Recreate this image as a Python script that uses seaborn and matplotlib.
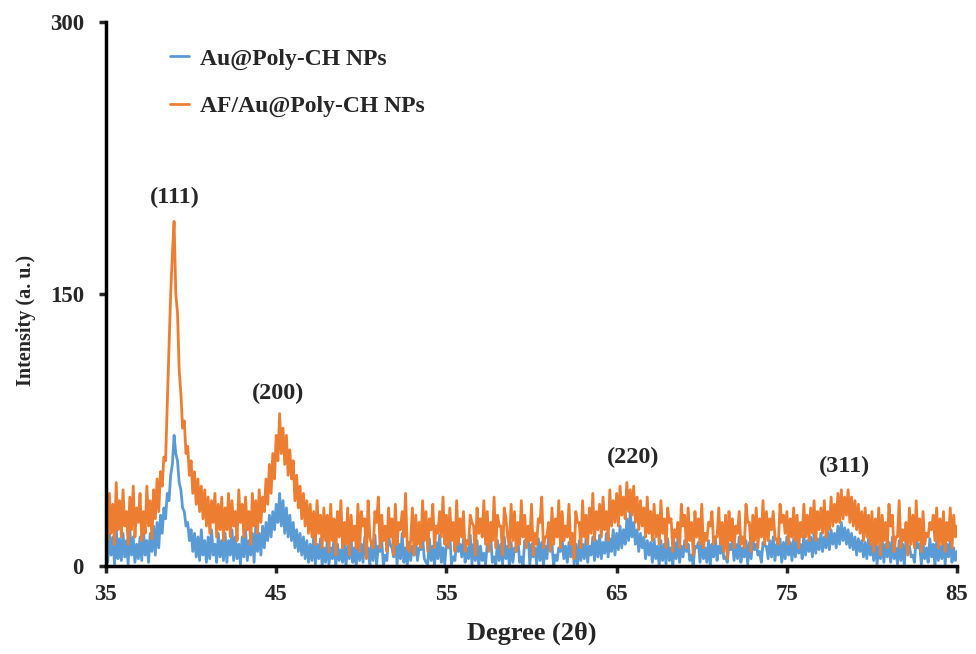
import numpy as np
import pandas as pd
import matplotlib
matplotlib.use('Agg')
import matplotlib.pyplot as plt
import seaborn as sns

# ── DATA (0.1 degree steps from 35 to 85) ─────────────────────────────────────
two_theta = np.round(np.arange(35.0, 85.05, 0.1), 1)

au_poly = [
    14, 2, 18, 6, 16, 1, 22, 4, 15, 3,        # 35
    18, 5, 14, 1, 20, 6, 16, 2, 12, 4,        # 36
    16, 3, 20, 6, 14, 2, 18, 8, 22, 6,        # 37
    24, 10, 28, 18, 32, 26, 40, 36, 50, 56,   # 38
    72, 62, 58, 46, 42, 32, 30, 22, 24, 14,   # 39
    20, 8, 18, 5, 16, 3, 20, 6, 14, 2,        # 40
    16, 4, 20, 6, 12, 2, 18, 5, 14, 3,        # 41
    18, 2, 14, 6, 20, 3, 16, 4, 12, 1,        # 42
    16, 5, 20, 3, 14, 6, 18, 2, 22, 8,        # 43
    18, 6, 22, 10, 24, 14, 28, 16, 30, 20,    # 44
    34, 24, 40, 22, 36, 18, 32, 16, 28, 14,   # 45
    24, 10, 20, 8, 18, 6, 16, 4, 14, 2,       # 46
    12, 3, 16, 1, 12, 4, 15, 0, 10, 2,        # 47
    14, 1, 10, 4, 16, 0, 12, 3, 9, 2,         # 48
    13, 0, 11, 4, 15, 2, 10, 0, 14, 3,        # 49
    12, 2, 16, 5, 10, 0, 13, 3, 17, 1,        # 50
    11, 8, 14, 0, 6, 3, 16, 12, 10, 5,        # 51
    15, 1, 12, 4, 18, 2, 10, 0, 13, 3,        # 52
    11, 6, 14, 3, 10, 9, 16, 4, 2, 1,         # 53
    15, 3, 11, 0, 13, 4, 17, 2, 10, 1,        # 54
    12, 10, 16, 1, 5, 3, 14, 8, 12, 5,        # 55
    15, 2, 10, 4, 17, 1, 12, 3, 14, 0,        # 56
    11, 3, 7, 1, 12, 10, 16, 2, 5, 0,         # 57
    14, 3, 12, 1, 16, 4, 11, 0, 13, 2,        # 58
    10, 8, 15, 2, 5, 0, 14, 11, 17, 1,        # 59
    12, 5, 10, 1, 15, 3, 13, 0, 11, 4,        # 60
    16, 9, 12, 0, 6, 3, 10, 8, 15, 4,         # 61
    11, 2, 13, 5, 17, 1, 12, 0, 14, 3,        # 62
    12, 4, 15, 2, 11, 6, 16, 3, 14, 5,        # 63
    17, 4, 13, 7, 18, 5, 15, 8, 20, 6,        # 64
    18, 9, 22, 10, 20, 12, 26, 14, 30, 16,    # 65
    24, 12, 20, 8, 18, 10, 16, 4, 14, 6,      # 66
    13, 2, 15, 4, 11, 0, 14, 3, 12, 1,        # 67
    15, 3, 10, 0, 13, 4, 16, 2, 11, 5,        # 68
    14, 8, 12, 3, 6, 0, 11, 10, 13, 2,        # 69
    15, 4, 10, 2, 14, 0, 12, 5, 16, 3,        # 70
    11, 7, 13, 4, 5, 2, 12, 9, 14, 3,         # 71
    12, 4, 16, 2, 10, 5, 14, 1, 13, 4,        # 72
    15, 9, 12, 6, 8, 2, 13, 11, 11, 4,        # 73
    14, 5, 16, 3, 12, 6, 15, 2, 13, 4,        # 74
    16, 6, 13, 3, 15, 5, 14, 7, 12, 4,        # 75
    17, 6, 14, 8, 16, 5, 18, 7, 15, 9,        # 76
    18, 8, 16, 10, 19, 9, 20, 12, 18, 10,     # 77
    22, 12, 24, 14, 21, 12, 20, 10, 18, 9,    # 78
    16, 6, 15, 8, 14, 5, 13, 4, 15, 6,        # 79
    12, 3, 14, 1, 11, 4, 15, 2, 12, 5,        # 80
    13, 2, 16, 4, 10, 1, 14, 3, 12, 0,        # 81
    15, 9, 11, 5, 6, 2, 16, 10, 12, 1,        # 82
    13, 4, 10, 2, 15, 5, 12, 0, 14, 3,        # 83
    11, 4, 14, 1, 12, 5, 15, 2, 10, 3,        # 84
    8,                                        # 85
]

af_au_poly = [
    28, 14, 40, 18, 34, 12, 46, 20, 36, 16,   # 35
    42, 22, 30, 12, 38, 20, 44, 16, 32, 24,   # 36
    40, 14, 30, 18, 44, 22, 36, 15, 42, 26,   # 37
    48, 30, 52, 44, 60, 58, 90, 120, 150, 172,  # 38
    190, 150, 140, 108, 95, 76, 80, 62, 66, 50,  # 39
    58, 40, 52, 34, 48, 30, 44, 26, 42, 22,   # 40
    38, 18, 36, 24, 40, 16, 34, 20, 38, 14,   # 41
    32, 20, 40, 16, 36, 22, 30, 14, 42, 24,   # 42
    34, 16, 38, 20, 30, 12, 40, 22, 36, 18,   # 43
    42, 24, 38, 30, 48, 34, 56, 40, 62, 48,   # 44
    72, 58, 84, 62, 76, 56, 72, 50, 64, 48,   # 45
    58, 36, 50, 32, 44, 26, 40, 22, 36, 18,   # 46
    34, 16, 30, 12, 36, 18, 28, 10, 32, 14,   # 47
    28, 8, 34, 14, 26, 6, 30, 16, 36, 10,     # 48
    24, 12, 32, 6, 28, 14, 22, 10, 34, 8,     # 49
    30, 22, 26, 4, 36, 16, 12, 10, 30, 24,    # 50
    38, 10, 28, 14, 22, 8, 32, 16, 26, 6,     # 51
    34, 12, 24, 20, 30, 16, 40, 10, 8, 14,    # 52
    32, 6, 28, 12, 24, 10, 36, 14, 30, 8,     # 53
    26, 20, 34, 10, 22, 18, 30, 16, 38, 12,   # 54
    28, 10, 32, 14, 24, 8, 36, 12, 26, 16,    # 55
    30, 8, 14, 12, 28, 24, 22, 6, 32, 18,     # 56
    26, 16, 36, 12, 30, 8, 24, 14, 38, 10,    # 57
    28, 22, 22, 6, 32, 26, 16, 10, 34, 14,    # 58
    30, 8, 24, 12, 36, 16, 28, 10, 22, 14,    # 59
    34, 6, 18, 12, 26, 24, 38, 10, 16, 16,    # 60
    24, 8, 32, 12, 26, 16, 36, 10, 30, 14,    # 61
    22, 16, 34, 12, 18, 4, 30, 24, 24, 10,    # 62
    36, 16, 28, 12, 32, 18, 40, 14, 30, 20,   # 63
    34, 16, 38, 20, 30, 14, 42, 22, 36, 24,   # 64
    40, 22, 44, 28, 38, 26, 46, 30, 42, 28,   # 65
    44, 24, 38, 20, 36, 22, 32, 16, 38, 18,   # 66
    30, 14, 34, 16, 28, 12, 36, 18, 26, 10,   # 67
    32, 24, 26, 8, 20, 16, 24, 10, 34, 22,    # 68
    28, 10, 32, 14, 24, 6, 30, 16, 26, 12,    # 69
    34, 10, 18, 14, 24, 22, 30, 12, 16, 16,   # 70
    32, 12, 24, 8, 28, 4, 30, 14, 26, 10,     # 71
    22, 18, 30, 12, 16, 10, 34, 24, 24, 8,    # 72
    28, 14, 32, 10, 26, 16, 36, 12, 30, 14,   # 73
    26, 20, 30, 16, 14, 12, 34, 24, 28, 18,   # 74
    30, 12, 26, 16, 32, 14, 28, 10, 24, 16,   # 75
    34, 16, 28, 14, 32, 18, 36, 14, 30, 20,   # 76
    32, 18, 36, 16, 30, 20, 38, 22, 34, 24,   # 77
    40, 24, 42, 26, 38, 28, 42, 24, 38, 22,   # 78
    36, 20, 34, 18, 30, 14, 32, 16, 28, 12,   # 79
    30, 8, 26, 12, 32, 6, 28, 14, 24, 10,     # 80
    34, 22, 28, 8, 16, 16, 36, 10, 20, 14,    # 81
    24, 6, 32, 12, 28, 10, 36, 14, 26, 8,     # 82
    30, 12, 18, 16, 24, 20, 28, 14, 32, 10,   # 83
    26, 12, 30, 8, 24, 14, 32, 10, 28, 16,    # 84
    22,                                       # 85
]

series_names = ['Au@Poly-CH NPs', 'AF/Au@Poly-CH NPs']
peak_labels = ['(111)', '(200)', '(220)', '(311)']
peak_pos = [39.05, 45.1, 65.95, 78.4]
x_ticks = [35, 45, 55, 65, 75, 85]
y_ticks = [0, 150, 300]

df = pd.DataFrame({
    'Degree': np.concatenate([two_theta, two_theta]),
    'Intensity': au_poly + af_au_poly,
    'Sample': [series_names[0]] * len(au_poly) + [series_names[1]] * len(af_au_poly),
})

# ── PLOT ──────────────────────────────────────────────────────────────────────
sns.set_style('white')
plt.rcParams['font.family'] = ['Liberation Serif', 'DejaVu Serif']
plt.rcParams['font.weight'] = 'bold'

fig = plt.figure(figsize=(9.76, 6.54), dpi=100)
ax = fig.add_axes([0.1086, 0.1346, 0.872, 0.832])

sns.lineplot(data=df, x='Degree', y='Intensity', hue='Sample',
             palette=['#5B9BD5', '#ED7D31'], estimator=None,
             linewidth=2.0, ax=ax)

ax.set_xlim(35, 85)
ax.set_ylim(0, 300)
ax.set_xticks(x_ticks)
ax.set_yticks(y_ticks)
ax.tick_params(axis='both', direction='out', length=5, width=2.5,
               labelsize=16.5, bottom=True, left=True)
ax.tick_params(axis='x', pad=8)
ax.tick_params(axis='y', pad=11)
for lab in ax.get_xticklabels() + ax.get_yticklabels():
    lab.set_fontweight('bold')

for side in ['top', 'right']:
    ax.spines[side].set_visible(False)
for side in ['left', 'bottom']:
    ax.spines[side].set_linewidth(2.5)
    ax.spines[side].set_color('black')

ax.set_xlabel('Degree (2θ)', fontsize=19, fontweight='bold', labelpad=12)
ax.set_ylabel('Intensity (a. u.)', fontsize=14.5, fontweight='bold')
ax.yaxis.set_label_coords(-0.082, 0.452)

# peak labels sit just above the highest point near each peak
label_gap = [13, 11, 16, 13]
for lab, pos, gap in zip(peak_labels, peak_pos, label_gap):
    near = [v for x, v in zip(two_theta, af_au_poly) if abs(x - pos) <= 0.3]
    ax.text(pos, max(near) + gap, lab, ha='center', va='center',
            fontsize=17.5, fontweight='bold')

leg = ax.legend(loc='upper left', bbox_to_anchor=(0.05, 0.991), frameon=False,
                handlelength=0.8, handletextpad=0.5, labelspacing=1.1,
                prop={'weight': 'bold', 'size': 17})
for line in leg.get_lines():
    line.set_linewidth(2)

fig.savefig('out.png', dpi=100)
plt.close(fig)
